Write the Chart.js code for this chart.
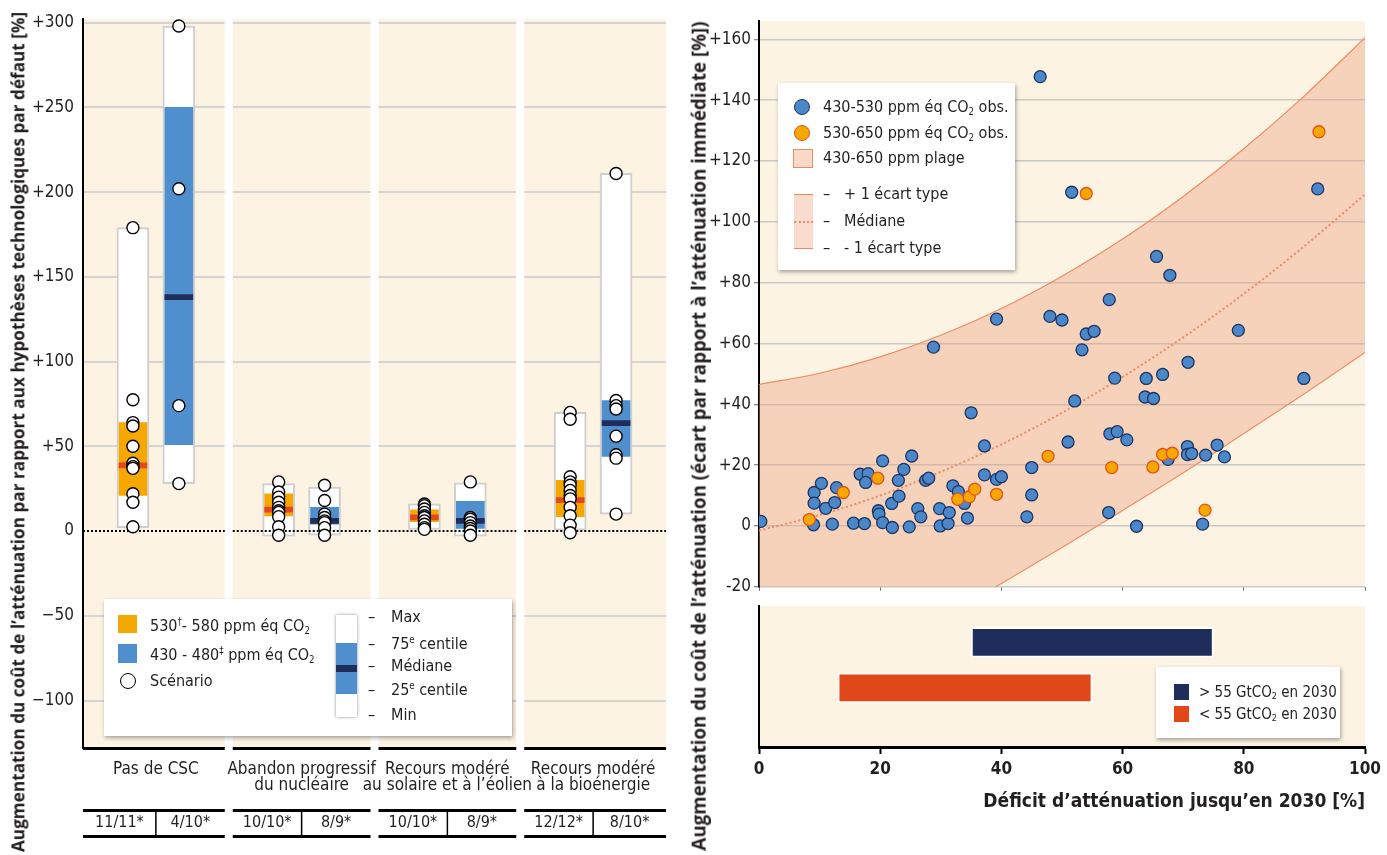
<!DOCTYPE html>
<html lang="fr">
<head>
<meta charset="utf-8">
<title>Augmentation du coût de l’atténuation</title>
<script src="https://cdn.jsdelivr.net/npm/chart.js@4.4.1/dist/chart.umd.min.js"></script>
<style>
  html, body { margin: 0; padding: 0; background: #fff; }
  body {
    width: 1387px; height: 855px; position: relative; overflow: hidden;
    font-family: 'Liberation Sans Narrow', 'DejaVu Sans Condensed', 'Roboto Condensed', Roboto, sans-serif;
    color: #231f20;
  }
  canvas { position: absolute; }
  .ytitle {
    position: absolute; white-space: nowrap; font-family: 'Open Sans', 'Noto Sans', sans-serif;
    font-weight: 700; font-size: 16px; line-height: 1;
    transform: translate(-50%, -50%) rotate(-90deg);
  }
  .legend { position: absolute; background: #fff; box-shadow: 1px 2px 4px rgba(0,0,0,0.35); font-size: 16px; }
  .legend > span { position: absolute; display: block; }
  .legend .lt { white-space: nowrap; transform: translateY(-50%); line-height: 1; }
  sub { font-size: 0.6em; vertical-align: -0.3em; line-height: 0; }
  sup { font-size: 0.6em; vertical-align: 0.6em; line-height: 0; }
</style>
</head>
<body>
<canvas id="left" width="690" height="855" style="left:0;top:0"></canvas>
<canvas id="scatter" width="697" height="600" style="left:690px;top:0"></canvas>
<canvas id="bottom" width="697" height="257" style="left:690px;top:598px"></canvas>

<div class="ytitle" id="t1" style="left:18px;top:432px">Augmentation du coût de l’atténuation par rapport aux hypothèses technologiques par défaut [%]</div>
<div class="ytitle" id="t2" style="left:699px;top:436px">Augmentation du coût de l’atténuation (écart par rapport à l’atténuation immédiate [%])</div>

<div class="legend" style="left:104px;top:599px;width:408px;height:137px">
  <span style="left:14px;top:16px;width:19px;height:18px;background:#f6a800"></span>
  <span class="lt" style="left:46px;top:27px">530<sup>†</sup>- 580 ppm éq CO<sub>2</sub></span>
  <span style="left:14px;top:45px;width:19px;height:19px;background:#4f8fcd"></span>
  <span class="lt" style="left:46px;top:56px">430 - 480<sup>‡</sup> ppm éq CO<sub>2</sub></span>
  <span style="left:16px;top:74px;width:16px;height:16px;border:1.5px solid #000;border-radius:50%;background:#fff;box-sizing:border-box"></span>
  <span class="lt" style="left:46px;top:82px">Scénario</span>
  <span style="left:232px;top:16px;width:21px;height:102px;background:#fff;box-shadow:0 0 3px rgba(0,0,0,0.45)"></span>
  <span style="left:232px;top:44px;width:21px;height:51px;background:#4f8fcd"></span>
  <span style="left:232px;top:66px;width:21px;height:7px;background:#1f2d5a"></span>
  <span class="lt" style="left:264px;top:18px">–</span><span class="lt" style="left:287px;top:18px">Max</span>
  <span class="lt" style="left:264px;top:45px">–</span><span class="lt" style="left:287px;top:45px">75<sup>e</sup> centile</span>
  <span class="lt" style="left:264px;top:67px">–</span><span class="lt" style="left:287px;top:67px">Médiane</span>
  <span class="lt" style="left:264px;top:91px">–</span><span class="lt" style="left:287px;top:91px">25<sup>e</sup> centile</span>
  <span class="lt" style="left:264px;top:116px">–</span><span class="lt" style="left:287px;top:116px">Min</span>
</div>

<div class="legend" style="left:778px;top:83px;width:237px;height:187px">
  <span style="left:16px;top:16px;width:16px;height:16px;border:1.3px solid #1d3461;border-radius:50%;background:#4a88c9;box-sizing:border-box"></span>
  <span class="lt" style="left:45px;top:24px">430-530 ppm éq CO<sub>2</sub> obs.</span>
  <span style="left:16px;top:42px;width:16px;height:16px;border:1.3px solid #e2531b;border-radius:50%;background:#f6a800;box-sizing:border-box"></span>
  <span class="lt" style="left:45px;top:50px">530-650 ppm éq CO<sub>2</sub> obs.</span>
  <span style="left:15px;top:66px;width:20px;height:19px;background:#f9d9c8;border:1.5px solid #ec8b63;box-sizing:border-box"></span>
  <span class="lt" style="left:45px;top:75px">430-650 ppm plage</span>
  <span style="left:16px;top:111px;width:19px;height:55px;background:#f9dccd;border-top:1.5px solid #ec8b63;border-bottom:1.5px solid #ec8b63;box-sizing:border-box"></span>
  <span style="left:16px;top:138px;width:19px;height:0;border-top:2px dotted #ec8b63"></span>
  <span class="lt" style="left:45px;top:111px">–</span><span class="lt" style="left:66px;top:111px">+ 1 écart type</span>
  <span class="lt" style="left:45px;top:138px">–</span><span class="lt" style="left:66px;top:138px">Médiane</span>
  <span class="lt" style="left:45px;top:165px">–</span><span class="lt" style="left:66px;top:165px">- 1 écart type</span>
</div>

<div class="legend" style="left:1156px;top:667px;width:184px;height:71px;font-size:15px">
  <span style="left:18px;top:17px;width:15px;height:16px;background:#1f2d5a"></span>
  <span class="lt" style="left:43px;top:25px">&gt; 55 GtCO<sub>2</sub> en 2030</span>
  <span style="left:18px;top:39px;width:15px;height:16px;background:#e0481a"></span>
  <span class="lt" style="left:43px;top:47px">&lt; 55 GtCO<sub>2</sub> en 2030</span>
</div>

<script>
// ---- panel de gauche : hypothèses technologiques ----
const categories = [
  ['Pas de CSC'],
  ['Abandon progressif', 'du nucléaire'],
  ['Recours modéré', 'au solaire et à l’éolien'],
  ['Recours modéré', 'à la bioénergie']
];
const counts580 = ['11/11*', '10/10*', '10/10*', '12/12*'];
const counts480 = ['4/10*', '8/9*', '8/9*', '8/10*'];

// 530-580 ppm (orange)
const min580 = [2, -3, 1, 0];
const q1580 = [21, 9, 5.5, 8.5];
const med580 = [38.8, 12.7, 8, 18.2];
const q3580 = [64, 22, 12.5, 30];
const max580 = [179, 28, 16, 70];
// 430-480 ppm (bleu)
const min480 = [28, -2.5, -3, 10];
const q1480 = [51, 4, 1.5, 44];
const med480 = [138, 6, 6, 63.7];
const q3480 = [250, 14, 17.5, 77];
const max480 = [298, 26, 28.5, 211];

const scen580 = [
  [179, 77.5, 64, 62, 50, 40, 38, 37, 22, 17, 2.5],
  [29, 23, 20, 17, 14, 12, 11, 8.5, 2.5, -2.5],
  [16, 15, 13, 11, 9, 8, 6, 4, 2, 1],
  [70, 66, 32, 29, 27, 24, 21, 19, 14, 9, 3.5, -1]
];
const scen480 = [
  [298, 202, 74, 28],
  [27, 18, 10, 8, 6, 5, 2, -2.5],
  [29, 8, 7, 5, 3, 1.5, 0, -2.5],
  [211, 77, 74, 72, 56, 45, 43, 10]
];

// ---- panel de droite : déficit d'atténuation ----
const obs530 = [
  [0.3, 1.5], [9, 0.4], [9.1, 11], [10.3, 14], [9.1, 7.5], [11, 5.8], [12.8, 12.6], [12.5, 7.7],
  [12.1, 0.6], [15.6, 0.9], [17.4, 0.8], [16.7, 17], [18, 17.2], [17.6, 14.3], [20.4, 21.4],
  [19.7, 5], [19.8, 3.9], [20.4, 1.1], [22, -0.5], [21.9, 7.4], [23.1, 9.8], [23, 15], [23.9, 18.6],
  [25.2, 23], [24.8, -0.3], [26.2, 5.7], [26.7, 3], [27.5, 15], [28, 15.7], [29.8, 5.7], [29.9, 0],
  [31.2, 0.8], [31.4, 4.4], [32, 13.2], [32.9, 11.3], [33.9, 7.4], [34.4, 2.6], [35, 37.2],
  [37.2, 26.3], [37.2, 16.8], [28.8, 58.8], [39.2, 68], [46.4, 147.7], [51.6, 109.7], [65.6, 88.6],
  [67.8, 82.4], [57.8, 74.4], [48, 68.9], [50, 67.7], [54, 63.1], [55.3, 64], [53.3, 57.9],
  [70.8, 53.8], [58.7, 48.6], [63.9, 48.5], [66.6, 49.8], [63.7, 42.4], [65.1, 41.9], [52.1, 41.1],
  [79.1, 64.3], [57.9, 30.3], [59.1, 31], [60.7, 28.3], [51, 27.6], [45, 19.2], [39.2, 15.3],
  [40, 16.2], [45, 10.2], [44.2, 3], [57.7, 4.4], [62.3, -0.1], [67.5, 21.9], [70.7, 26.1],
  [70.7, 23.5], [71.4, 23.8], [73.7, 23.3], [75.6, 26.6], [76.8, 22.7], [73.2, 0.6], [92.2, 110.8],
  [89.9, 48.5]
];
const obs650 = [
  [8.3, 2.1], [13.9, 11], [19.6, 15.7], [32.8, 8.8], [34.7, 9.6], [35.6, 12.1], [39.2, 10.4],
  [47.7, 22.9], [58.2, 19.2], [65, 19.4], [66.6, 23.5], [68.2, 23.9], [73.6, 5.2], [54, 109.3],
  [92.4, 129.6]
];
const bandX = [0, 10, 20, 30, 40, 50, 60, 70, 80, 90, 100];
const bandUpper = [46.5, 50.2, 55.6, 62.7, 71.5, 82.1, 94.3, 108.3, 124.0, 141.4, 160.5];
const bandMedian = [-1.5, 3.6, 10.0, 17.8, 26.8, 37.2, 49.0, 62.0, 76.3, 92.0, 109.0];
const bandLower = [-62.7, -52.2, -41.5, -30.3, -18.9, -7.1, 5.1, 17.5, 30.4, 43.5, 57.0];

// barres d'émissions 2030
const emissionRows = ['> 55 GtCO₂ en 2030', '< 55 GtCO₂ en 2030'];
const gapStart = [35, 13];
const gapEnd = [75, 55];

const CREAM = '#fdf3e3';
const INK = '#231f20';
const NARROW = "'Liberation Sans Narrow', 'DejaVu Sans Condensed', 'Roboto Condensed', Roboto, sans-serif";
const OFF = 0.1575;   // décalage des deux boîtes de part et d'autre du centre du panneau
const GAP = 8;

function boxes(lo, hi, shift) { return lo.map((v, i) => ({ x: i + shift, y: [v, hi[i]] })); }
function medianBand(m, shift) { return m.map((v, i) => ({ x: i + shift, y: [v - 1.5, v + 1.5] })); }
function scenarioPoints(rows, shift) {
  return rows.flatMap((vals, i) => vals.map(v => ({ x: i + shift, y: v })));
}
function pairs(list) { return list.map(p => ({ x: p[0], y: p[1] })); }
function curve(ys) { return bandX.map((x, i) => ({ x: x, y: ys[i] })); }

function panelEdges(x) {
  const n = categories.length;
  return categories.map((c, i) => [
    x.getPixelForValue(i - 0.5) + (i > 0 ? GAP / 2 : 0),
    x.getPixelForValue(i + 0.5) - (i < n - 1 ? GAP / 2 : 0)
  ]);
}

const leftPanels = {
  id: 'leftPanels',
  beforeDraw(chart) {
    const { ctx, chartArea: a } = chart;
    ctx.save();
    ctx.fillStyle = CREAM;
    ctx.fillRect(a.left, a.top, a.right - a.left, a.bottom - a.top);
    ctx.restore();
  },
  beforeDatasetsDraw(chart) {
    const { ctx, chartArea: a, scales: { x } } = chart;
    ctx.save();
    ctx.fillStyle = '#fff';
    for (let i = 1; i < categories.length; i++) {
      const b = x.getPixelForValue(i - 0.5);
      ctx.fillRect(b - GAP / 2, a.top - 2, GAP, a.bottom - a.top + 4);
    }
    ctx.restore();
    chart.$zeroDone = false;
  },
  beforeDatasetDraw(chart, args) {
    if (chart.$zeroDone || chart.data.datasets[args.index].type !== 'scatter') return;
    chart.$zeroDone = true;
    const { ctx, scales: { x, y } } = chart;
    const y0 = Math.round(y.getPixelForValue(0));
    ctx.save();
    ctx.strokeStyle = '#000';
    ctx.lineWidth = 2;
    ctx.setLineDash([2, 2]);
    panelEdges(x).forEach(([l, r]) => {
      ctx.beginPath(); ctx.moveTo(l, y0); ctx.lineTo(r, y0); ctx.stroke();
    });
    ctx.restore();
  },
  afterDraw(chart) {
    const { ctx, chartArea: a, scales: { x } } = chart;
    const yb = a.bottom;
    ctx.save();
    ctx.textAlign = 'center';
    ctx.textBaseline = 'middle';
    panelEdges(x).forEach(([l, r], i) => {
      const c = x.getPixelForValue(i);
      ctx.fillStyle = '#000';
      ctx.fillRect(l, yb - 1, r - l, 3);
      ctx.fillRect(l, yb + 61, r - l, 3);
      ctx.fillRect(l, yb + 87, r - l, 3);
      ctx.fillRect(c - 0.75, yb + 63, 1.5, 25);
      ctx.fillStyle = INK;
      ctx.font = '17px ' + NARROW;
      categories[i].forEach((t, k) => ctx.fillText(t, c, yb + 22 + 16 * k));
      ctx.font = '16px ' + NARROW;
      ctx.fillText(counts580[i], (l + c) / 2, yb + 75);
      ctx.fillText(counts480[i], (c + r) / 2, yb + 75);
    });
    ctx.restore();
  }
};

const creamArea = {
  id: 'creamArea',
  beforeDraw(chart) {
    const { ctx, chartArea: a } = chart;
    ctx.save();
    ctx.fillStyle = CREAM;
    ctx.fillRect(a.left, a.top, a.right - a.left, a.bottom - a.top);
    ctx.restore();
  }
};

const barBase = { type: 'bar', grouped: false, borderSkipped: false };
const boxBorder = { backgroundColor: '#fff', borderColor: '#cfcfcf', borderWidth: 2, barThickness: 32 };
const scenStyle = {
  type: 'scatter', order: 0, clip: false,
  pointRadius: 6, pointBackgroundColor: '#fff', pointBorderColor: '#000', pointBorderWidth: 1.4
};

new Chart(document.getElementById('left'), {
  type: 'bar',
  data: {
    datasets: [
      { ...barBase, order: 1, data: medianBand(med580, -OFF), backgroundColor: '#e2491f', barThickness: 28 },
      { ...barBase, order: 1, data: medianBand(med480, OFF), backgroundColor: '#1f2d5a', barThickness: 28 },
      { ...barBase, order: 2, data: boxes(q1580, q3580, -OFF), backgroundColor: '#f6a800', barThickness: 28 },
      { ...barBase, order: 2, data: boxes(q1480, q3480, OFF), backgroundColor: '#4f8fcd', barThickness: 28 },
      { ...barBase, ...boxBorder, order: 3, data: boxes(min580, max580, -OFF) },
      { ...barBase, ...boxBorder, order: 3, data: boxes(min480, max480, OFF) },
      { ...scenStyle, data: scenarioPoints(scen580, -OFF) },
      { ...scenStyle, data: scenarioPoints(scen480, OFF) }
    ]
  },
  options: {
    responsive: false,
    animation: false,
    layout: { padding: { top: 18, right: 24, bottom: 107, left: 0 } },
    plugins: { legend: { display: false }, tooltip: { enabled: false } },
    scales: {
      x: { type: 'linear', min: -0.5, max: 3.5, offset: false, display: false },
      y: {
        min: -128, max: 302,
        afterFit: s => { s.width = 83; },
        ticks: {
          stepSize: 50, includeBounds: false, padding: 9, color: INK,
          font: { family: NARROW, size: 17 },
          callback: v => v > 0 ? '+' + v : (v < 0 ? '−' + (-v) : '0')
        },
        grid: { color: c => (c.tick && c.tick.value === 0) ? 'rgba(0,0,0,0)' : '#d4d4d4', lineWidth: 2, drawTicks: false },
        border: { color: '#000', width: 2 }
      }
    }
  },
  plugins: [leftPanels]
});

const lineBase = { type: 'line', pointRadius: 0, borderColor: '#ec8b63', cubicInterpolationMode: 'monotone' };

new Chart(document.getElementById('scatter'), {
  type: 'scatter',
  data: {
    datasets: [
      { ...lineBase, order: 3, data: curve(bandUpper), borderWidth: 1.2, fill: '+1', backgroundColor: 'rgba(236,160,124,0.4)' },
      { ...lineBase, order: 3, data: curve(bandLower), borderWidth: 1.2, fill: false },
      { ...lineBase, order: 2, data: curve(bandMedian), borderWidth: 2, borderDash: [2, 2.5], fill: false },
      { order: 1, data: pairs(obs530), pointRadius: 6, pointBackgroundColor: '#4a88c9', pointBorderColor: '#1d3461', pointBorderWidth: 1.3 },
      { order: 0, data: pairs(obs650), pointRadius: 6, pointBackgroundColor: '#f6a800', pointBorderColor: '#e2531b', pointBorderWidth: 1.3 }
    ]
  },
  options: {
    responsive: false,
    animation: false,
    layout: { padding: { top: 21, right: 22, bottom: 6, left: 0 } },
    plugins: { legend: { display: false }, tooltip: { enabled: false } },
    scales: {
      x: {
        type: 'linear', min: 0, max: 100,
        afterFit: s => { s.height = 4; },
        ticks: { stepSize: 20, display: false },
        grid: { drawOnChartArea: false, drawTicks: true, tickLength: 4, color: '#777' },
        border: { display: false }
      },
      y: {
        type: 'linear', min: -20, max: 166,
        afterFit: s => { s.width = 69; },
        ticks: {
          stepSize: 20, includeBounds: false, padding: 3, color: INK,
          font: { family: NARROW, size: 17 },
          callback: v => v > 0 ? '+' + v : String(v)
        },
        grid: { color: '#c9c9c9', lineWidth: 1.5, drawTicks: true, tickLength: 5, tickColor: '#666', tickWidth: 1 },
        border: { color: '#000', width: 2 }
      }
    }
  },
  plugins: [creamArea]
});

new Chart(document.getElementById('bottom'), {
  type: 'bar',
  data: {
    labels: emissionRows,
    datasets: [{
      data: emissionRows.map((r, i) => ({ y: i + 1, x: [gapStart[i], gapEnd[i]] })),
      backgroundColor: ['#1f2d5a', '#e0481a'],
      borderColor: 'rgba(255,255,255,0.9)',
      borderWidth: 2,
      borderSkipped: false,
      barThickness: 30
    }]
  },
  options: {
    indexAxis: 'y',
    responsive: false,
    animation: false,
    layout: { padding: { top: 8, right: 22, bottom: 42, left: 0 } },
    plugins: { legend: { display: false }, tooltip: { enabled: false } },
    scales: {
      x: {
        type: 'linear', min: 0, max: 100,
        afterFit: s => { s.height = 66; },
        ticks: { stepSize: 20, padding: 5, color: INK, font: { family: NARROW, size: 17, weight: 'bold' } },
        grid: { drawOnChartArea: false, drawTicks: true, tickLength: 7, tickWidth: 2, tickColor: '#000' },
        border: { color: '#000', width: 3 },
        title: {
          display: true, text: 'Déficit d’atténuation jusqu’en 2030 [%]', align: 'end', color: INK,
          font: { family: NARROW, size: 19, weight: 'bold' }, padding: { top: 6, bottom: 0 }
        }
      },
      y: {
        type: 'linear', reverse: true, offset: false, min: 0.2, max: 3.3,
        afterFit: s => { s.width = 69; },
        ticks: { display: false },
        grid: { display: false },
        border: { color: '#000', width: 2 }
      }
    }
  },
  plugins: [creamArea]
});

// ajuste les titres verticaux à la longueur de la référence
function fitTitle(id, target) {
  const el = document.getElementById(id);
  const size = 16 * target / el.offsetWidth;
  el.style.fontSize = size.toFixed(2) + 'px';
}
fitTitle('t1', 840);
fitTitle('t2', 830);
</script>
</body>
</html>
